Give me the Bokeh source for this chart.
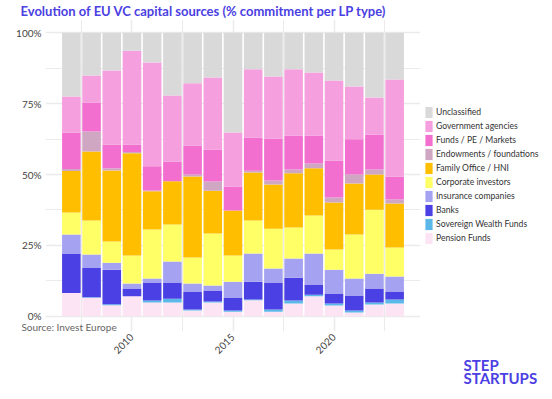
import math
from bokeh.plotting import figure
from bokeh.models import (FixedTicker, PrintfTickFormatter, Legend, LegendItem,
                          Label, Range1d, ColumnDataSource, Title)
from bokeh.embed import file_html
from bokeh.resources import INLINE

years = list(range(2007, 2024))
categories = ["Pension Funds", "Sovereign Wealth Funds", "Banks", "Insurance companies",
              "Corporate investors", "Family Office / HNI", "Endowments / foundations",
              "Funds / PE / Markets", "Government agencies", "Unclassified"]
colors = ["#fce4f4", "#5bb8e8", "#4b40e3", "#a5a2f2", "#ffff66", "#ffbf00",
          "#cfa7c3", "#f26fd0", "#f59fdf", "#d9d9d9"]

pension    = [8.2, 6.5, 3.9, 7.0, 4.8, 4.8, 2.0, 4.8, 1.6, 5.6, 1.6, 4.5, 7.0, 3.8, 1.3, 4.1, 4.5]
sovereign  = [0.0, 0.2, 0.3, 0.0, 0.7, 1.4, 0.4, 0.4, 0.4, 0.3, 0.8, 1.0, 0.6, 0.7, 0.7, 0.7, 1.4]
banks      = [13.9, 10.5, 12.2, 2.8, 6.4, 5.7, 6.3, 3.9, 4.6, 6.3, 9.5, 8.1, 3.6, 3.5, 5.3, 5.0, 2.8]
insurance  = [6.7, 4.6, 2.5, 1.7, 1.4, 7.4, 2.8, 1.7, 5.6, 9.9, 4.9, 6.8, 10.9, 8.4, 6.0, 5.2, 5.3]
corporate  = [7.8, 12.0, 7.5, 9.9, 17.3, 13.1, 9.2, 18.4, 9.2, 11.7, 14.1, 10.9, 13.4, 7.1, 15.5, 22.6, 10.2]
family     = [14.6, 24.3, 25.0, 36.1, 13.5, 15.2, 28.6, 15.1, 15.9, 16.9, 15.6, 19.1, 16.7, 16.6, 18.0, 12.4, 15.6]
endowments = [0.7, 7.1, 0.8, 0.4, 0.3, 0.0, 0.7, 3.2, 0.0, 0.6, 1.4, 1.4, 1.7, 1.8, 3.2, 1.8, 1.4]
funds      = [12.9, 10.2, 8.4, 2.7, 8.5, 7.0, 10.2, 11.3, 8.5, 11.8, 14.8, 12.0, 9.9, 13.0, 12.4, 12.3, 8.1]
government = [12.7, 9.5, 26.1, 33.1, 36.6, 23.3, 22.0, 25.4, 19.0, 24.0, 21.9, 23.3, 22.2, 28.3, 18.7, 13.1, 34.2]
unclassified = [22.5, 15.1, 13.3, 6.3, 10.5, 22.1, 17.8, 15.8, 35.2, 12.9, 15.4, 12.9, 14.0, 16.8, 18.9, 22.8, 16.5]

x_ticks = [2010, 2015, 2020]
x_minor = [2007.5, 2012.5, 2017.5, 2022.5]
y_ticks = [0, 25, 50, 75, 100]
y_minor = [12.5, 37.5, 62.5, 87.5]

series = [pension, sovereign, banks, insurance, corporate, family, endowments,
          funds, government, unclassified]
data = {"year": years}
for c, s in zip(categories, series):
    data[c] = s
source = ColumnDataSource(data)

FONT = "Lato"
TITLE_COLOR = "#4b40e3"

p = figure(frame_width=375, frame_height=312, output_backend="svg", toolbar_location=None,
           x_range=Range1d(2005.72, 2024.28), y_range=Range1d(-5.4, 104.7),
           min_border_left=36, min_border_right=0, min_border_top=12,
           min_border_bottom=0, outline_line_color=None)

renderers = p.vbar_stack(categories, x="year", width=0.92, color=colors,
                         line_color=None, source=source)

# axes
p.xaxis.ticker = FixedTicker(ticks=x_ticks, minor_ticks=x_minor)
p.yaxis.ticker = FixedTicker(ticks=y_ticks, minor_ticks=y_minor)
p.yaxis.formatter = PrintfTickFormatter(format="%d%%")
for ax in (p.xaxis, p.yaxis):
    ax.axis_line_color = None
    ax.major_tick_line_color = None
    ax.minor_tick_line_color = None
    ax.major_tick_out = 0
    ax.major_tick_in = 0
    ax.minor_tick_out = 0
    ax.major_label_text_font = FONT
    ax.major_label_text_font_size = "10px"
    ax.major_label_text_color = "#444444"
p.yaxis.major_label_standoff = 4
p.xaxis.major_label_standoff = 4
p.xaxis.major_label_orientation = math.pi / 4
# blank axis label: only reserves a little room to the left of the tick labels
p.yaxis.axis_label = " "
p.yaxis.axis_label_text_font_size = "7px"
p.yaxis.axis_label_standoff = 3

p.xgrid.grid_line_color = "#ebebeb"
p.xgrid.grid_line_width = 1.5
p.xgrid.minor_grid_line_color = "#ebebeb"
p.xgrid.minor_grid_line_width = 1
p.ygrid.grid_line_color = "#ebebeb"
p.ygrid.grid_line_width = 1.5
p.ygrid.minor_grid_line_color = "#ebebeb"
p.ygrid.minor_grid_line_width = 1

# legend in the right side panel
items = [LegendItem(label=c, renderers=[r]) for c, r in zip(categories, renderers)][::-1]
legend = Legend(items=items, location="center_left", orientation="vertical",
                glyph_width=9, glyph_height=14, label_height=14, spacing=0,
                padding=0, margin=4, label_standoff=3,
                label_text_font=FONT, label_text_font_size="8.6px",
                label_text_color="#333333", border_line_color=None,
                background_fill_alpha=0)
p.add_layout(legend, "right")

# title
p.add_layout(Title(text="Evolution of EU VC capital sources (% commitment per LP type)",
                   align="left", offset=-25, standoff=1,
                   text_font=FONT, text_font_size="13px", text_font_style="bold",
                   text_color=TITLE_COLOR), "above")

# caption and logo (below panel)
p.add_layout(Label(x=2026.41, y=-13.9, text="STEP\nSTARTUPS", text_line_height=0.72,
                   text_font=FONT, text_font_size="15px", text_font_style="bold",
                   text_color=TITLE_COLOR, text_baseline="top"), "below")
p.add_layout(Label(x=2004.53, y=-3.9, text="Source: Invest Europe",
                   text_font=FONT, text_font_size="10px", text_color="#666666",
                   text_baseline="alphabetic"), "below")

open("out.html", "w").write(file_html(p, INLINE))
